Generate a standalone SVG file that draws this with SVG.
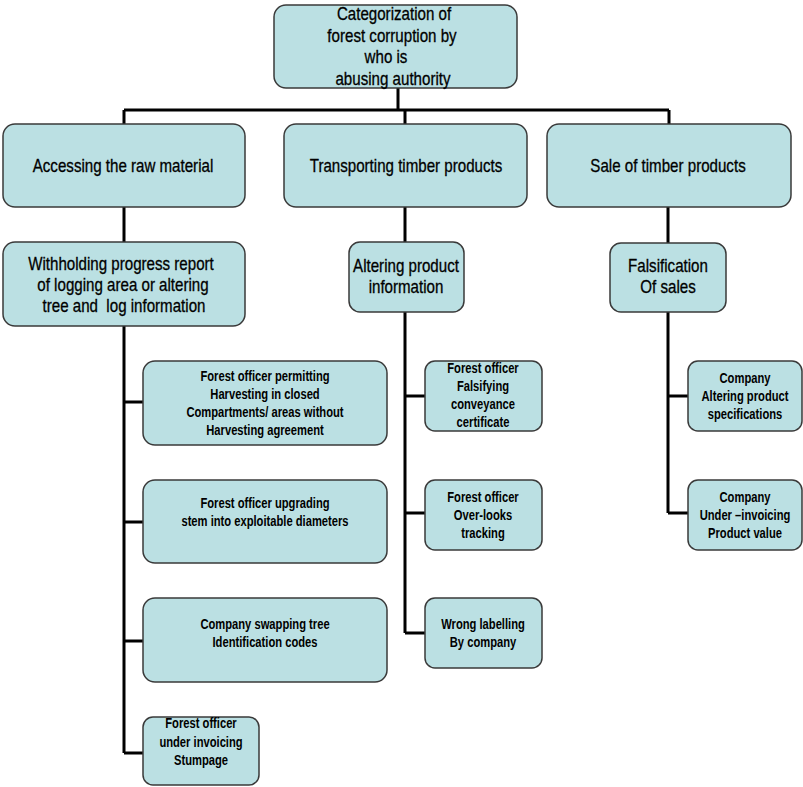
<svg xmlns="http://www.w3.org/2000/svg" width="803" height="787" viewBox="0 0 803 787">
<style>
.box{fill:#BBE0E3;stroke:#3a3a3a;stroke-width:1.5}
.conn{stroke:#000;stroke-width:3;fill:none}
.t{font-family:"Liberation Sans",Arial,sans-serif;font-size:18px;fill:#000;stroke:#000;stroke-width:0.3;text-anchor:middle}
.s{font-family:"Liberation Sans",Arial,sans-serif;font-size:14px;font-weight:bold;fill:#000;text-anchor:middle}
</style>
<rect width="803" height="787" fill="#fff"/>
<g id="connectors">
<path class="conn" d="M398 88V110M124 110H669M124 110V124M405 110V124M669 110V124"/>
<path class="conn" d="M124 207V242M405 207V242M668 207V243"/>
<path class="conn" d="M124 326V753M124 402H143M124 522H143M124 641H143M124 753H143"/>
<path class="conn" d="M405 312V633M405 396H425M405 513H425M405 633H425"/>
<path class="conn" d="M668 312V513M668 396H688M668 513H688"/>
</g>
<g id="root">
<rect class="box" x="274" y="5" width="243" height="83" rx="12"/>
<text class="t" transform="translate(394 20) scale(0.84 1)">Categorization of</text>
<text class="t" transform="translate(392 41.5) scale(0.84 1)">forest corruption by</text>
<text class="t" transform="translate(386 63) scale(0.84 1)">who is</text>
<text class="t" transform="translate(393 84.5) scale(0.84 1)">abusing authority</text>
</g>
<g id="access">
<rect class="box" x="3" y="124" width="242" height="83" rx="12"/>
<text class="t" transform="translate(123 172) scale(0.84 1)">Accessing the raw material</text>
</g>
<g id="transport">
<rect class="box" x="284" y="124" width="243" height="83" rx="12"/>
<text class="t" transform="translate(406 172) scale(0.84 1)">Transporting timber products</text>
</g>
<g id="sale">
<rect class="box" x="547" y="124" width="244" height="83" rx="12"/>
<text class="t" transform="translate(668 172) scale(0.84 1)">Sale of timber products</text>
</g>
<g id="withholding">
<rect class="box" x="3" y="242" width="242" height="84" rx="12"/>
<text class="t" transform="translate(121 270) scale(0.84 1)">Withholding progress report</text>
<text class="t" transform="translate(123 291) scale(0.84 1)">of logging area or altering</text>
<text class="t" transform="translate(124 312) scale(0.84 1)" xml:space="preserve">tree and  log information</text>
</g>
<g id="altering">
<rect class="box" x="349" y="242" width="115" height="70" rx="11"/>
<text class="t" transform="translate(406 272) scale(0.84 1)">Altering product</text>
<text class="t" transform="translate(406 293) scale(0.84 1)">information</text>
</g>
<g id="falsification">
<rect class="box" x="610" y="243" width="116" height="69" rx="11"/>
<text class="t" transform="translate(668 272) scale(0.84 1)">Falsification</text>
<text class="t" transform="translate(668 293) scale(0.84 1)">Of sales</text>
</g>
<g id="permitting">
<rect class="box" x="143" y="361" width="244" height="84" rx="12"/>
<text class="s" transform="translate(265 381) scale(0.8 1)">Forest officer permitting</text>
<text class="s" transform="translate(265 399) scale(0.8 1)">Harvesting in closed</text>
<text class="s" transform="translate(265 417) scale(0.8 1)">Compartments/ areas without</text>
<text class="s" transform="translate(265 435) scale(0.8 1)">Harvesting agreement</text>
</g>
<g id="upgrading">
<rect class="box" x="143" y="480" width="244" height="83" rx="12"/>
<text class="s" transform="translate(265 508) scale(0.8 1)">Forest officer upgrading</text>
<text class="s" transform="translate(265 526) scale(0.8 1)">stem into exploitable diameters</text>
</g>
<g id="swapping">
<rect class="box" x="143" y="598" width="244" height="84" rx="12"/>
<text class="s" transform="translate(265 629) scale(0.8 1)">Company swapping tree</text>
<text class="s" transform="translate(265 647) scale(0.8 1)">Identification codes</text>
</g>
<g id="stumpage">
<rect class="box" x="143" y="717" width="116" height="68" rx="10"/>
<text class="s" transform="translate(201 728) scale(0.8 1)">Forest officer</text>
<text class="s" transform="translate(201 747) scale(0.8 1)">under invoicing</text>
<text class="s" transform="translate(201 765) scale(0.8 1)">Stumpage</text>
</g>
<g id="conveyance">
<rect class="box" x="425" y="361" width="117" height="70" rx="10"/>
<text class="s" transform="translate(483 373) scale(0.8 1)">Forest officer</text>
<text class="s" transform="translate(483 391) scale(0.8 1)">Falsifying</text>
<text class="s" transform="translate(483 409) scale(0.8 1)">conveyance</text>
<text class="s" transform="translate(483 427) scale(0.8 1)">certificate</text>
</g>
<g id="tracking">
<rect class="box" x="425" y="480" width="117" height="70" rx="10"/>
<text class="s" transform="translate(483 502) scale(0.8 1)">Forest officer</text>
<text class="s" transform="translate(483 520) scale(0.8 1)">Over-looks</text>
<text class="s" transform="translate(483 538) scale(0.8 1)">tracking</text>
</g>
<g id="labelling">
<rect class="box" x="425" y="598" width="117" height="70" rx="10"/>
<text class="s" transform="translate(483 629) scale(0.8 1)">Wrong labelling</text>
<text class="s" transform="translate(483 647) scale(0.8 1)">By company</text>
</g>
<g id="specifications">
<rect class="box" x="688" y="361" width="114" height="70" rx="10"/>
<text class="s" transform="translate(745 383) scale(0.8 1)">Company</text>
<text class="s" transform="translate(745 401) scale(0.8 1)">Altering product</text>
<text class="s" transform="translate(745 419) scale(0.8 1)">specifications</text>
</g>
<g id="underinvoicing">
<rect class="box" x="688" y="480" width="114" height="70" rx="10"/>
<text class="s" transform="translate(745 502) scale(0.8 1)">Company</text>
<text class="s" transform="translate(745 520) scale(0.8 1)">Under –invoicing</text>
<text class="s" transform="translate(745 538) scale(0.8 1)">Product value</text>
</g>
</svg>
